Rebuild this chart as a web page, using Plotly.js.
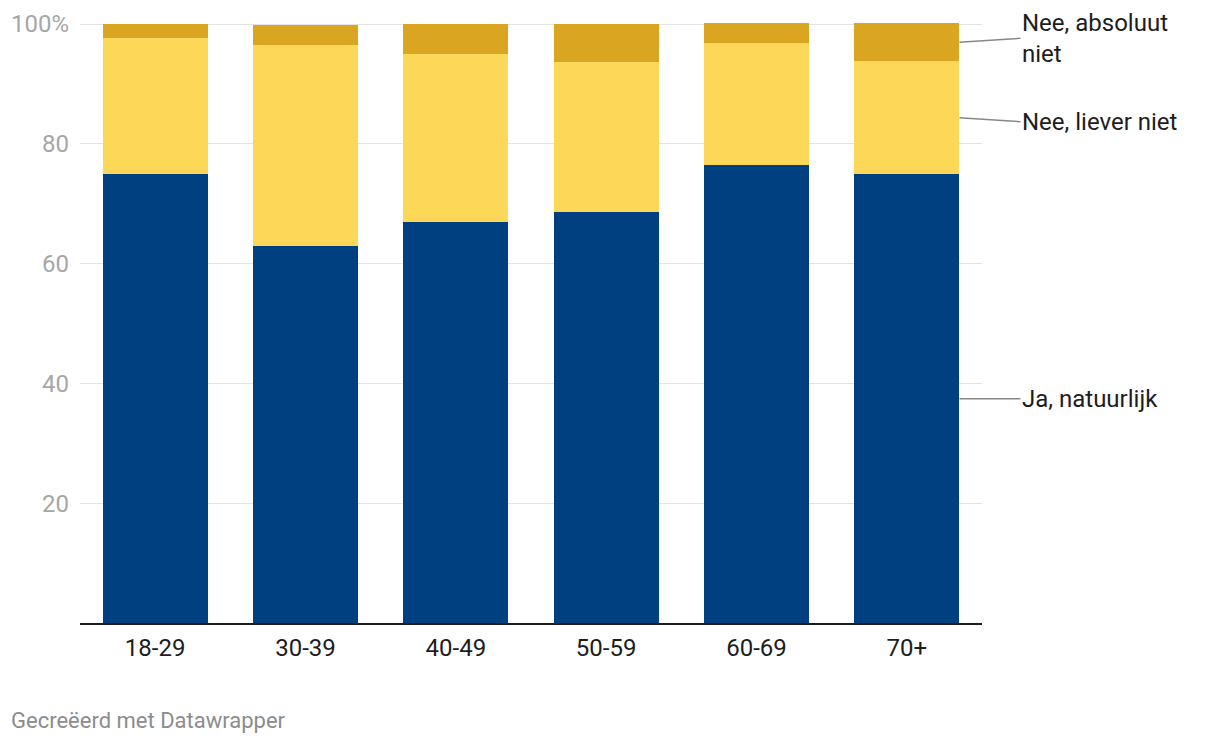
<!DOCTYPE html>
<html>
<head>
<meta charset="utf-8">
<script src="https://cdn.plot.ly/plotly-3.0.1.min.js"></script>
<style>
  html, body { margin: 0; padding: 0; background: #ffffff; }
  #chart { width: 1220px; height: 744px; }
</style>
</head>
<body>
<div id="chart"></div>
<script>
const categories = ["18-29", "30-39", "40-49", "50-59", "60-69", "70+"];
const jaNatuurlijk = [75.0, 62.9, 66.9, 68.6, 76.4, 74.9];
const neeLieverNiet = [22.7, 33.6, 28.1, 25.1, 20.4, 18.9];
const neeAbsoluutNiet = [2.3, 3.3, 5.0, 6.3, 3.3, 6.3];
const seriesNames = ["Ja, natuurlijk", "Nee, liever niet", "Nee, absoluut<br>niet"];
const seriesColors = ["#003f80", "#fdd757", "#daa520"];
const yTickValues = [20, 40, 60, 80, 100];
const yTickLabels = ["20", "40", "60", "80", "100%"];
const footer = "Gecreëerd met Datawrapper";

const allSeries = [jaNatuurlijk, neeLieverNiet, neeAbsoluutNiet];
const traces = allSeries.map((vals, i) => ({
  type: "bar",
  x: categories,
  y: vals,
  name: seriesNames[i],
  marker: { color: seriesColors[i], line: { width: 0 } },
  hoverinfo: "x+y+name"
}));

// Direct labels for the last bar, pointing at the middle of each segment
const lastIdx = categories.length - 1;
let cum = 0;
const labelOffsetsY = [0, 4, -4];
const annotations = allSeries.map((vals, i) => {
  const mid = cum + vals[lastIdx] / 2;
  cum += vals[lastIdx];
  return {
    x: lastIdx + 0.35,
    y: mid,
    xref: "x",
    yref: "y",
    text: seriesNames[i],
    showarrow: true,
    arrowhead: 0,
    arrowwidth: 1.5,
    arrowcolor: "#888888",
    ax: 61,
    ay: labelOffsetsY[i],
    standoff: 0,
    xanchor: "left",
    yanchor: "middle",
    align: "left",
    font: { family: "Roboto", size: 24, color: "#1d1d1d" }
  };
});

annotations.push({
  xref: "paper",
  yref: "paper",
  x: -0.079,
  y: -0.162,
  xanchor: "left",
  yanchor: "middle",
  text: footer,
  showarrow: false,
  font: { family: "Roboto", size: 22, color: "#8c8c8c" }
});

const layout = {
  width: 1220,
  height: 744,
  margin: { l: 80, r: 238, t: 23, b: 121 },
  paper_bgcolor: "#ffffff",
  plot_bgcolor: "#ffffff",
  barmode: "stack",
  bargap: 0.3,
  showlegend: false,
  font: { family: "Roboto", color: "#1d1d1d" },
  xaxis: {
    type: "category",
    range: [-0.5, categories.length - 0.5],
    autorange: false,
    tickfont: { family: "Roboto", size: 24, color: "#1d1d1d" },
    showgrid: false,
    showline: true,
    linecolor: "#1d1d1d",
    linewidth: 2,
    ticks: "",
    ticklabelstandoff: 2,
    fixedrange: true
  },
  yaxis: {
    range: [0, 100.17],
    autorange: false,
    tickvals: yTickValues,
    ticktext: yTickLabels,
    tickfont: { family: "Roboto", size: 24, color: "#a6a6a6" },
    showgrid: true,
    gridcolor: "#e3e3e3",
    gridwidth: 1,
    zeroline: false,
    showline: false,
    ticks: "",
    ticklabelstandoff: 10,
    fixedrange: true
  },
  annotations: annotations
};

Plotly.newPlot("chart", traces, layout, { displayModeBar: false, staticPlot: true });
</script>
</body>
</html>
